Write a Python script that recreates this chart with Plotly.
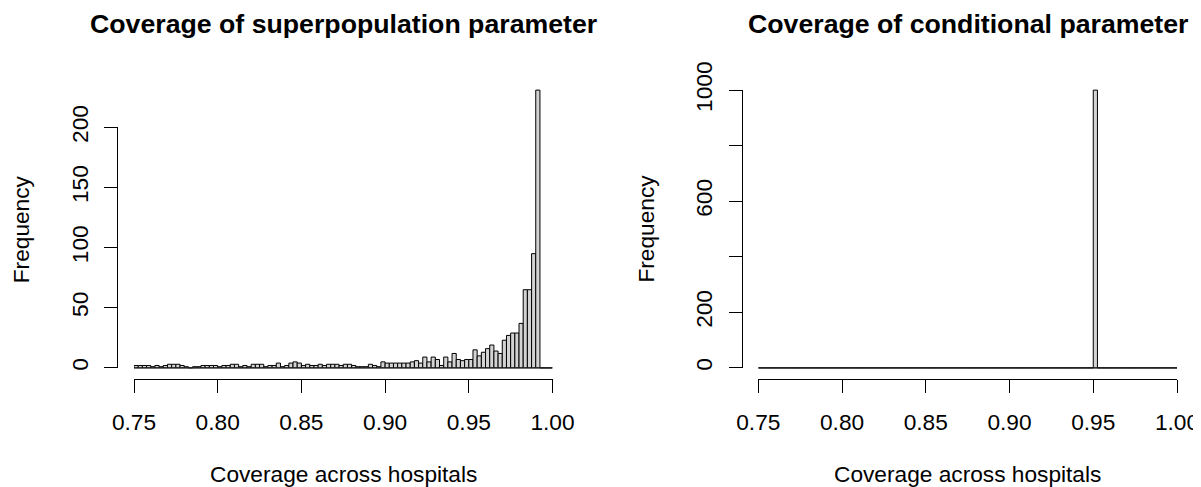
import numpy as np
import plotly.graph_objects as go

# ---------------- data ----------------
bin_width = 0.0025
breaks = np.round(np.arange(0.75, 1.0 + bin_width / 2, bin_width), 4)  # 101 bin edges

super_counts = [
    2, 2, 2, 2, 1, 2, 1, 2, 3, 3,
    3, 2, 1, 0, 1, 1, 2, 2, 2, 2,
    1, 2, 2, 3, 3, 1, 2, 1, 3, 3,
    3, 1, 2, 2, 4, 1, 2, 4, 5, 4,
    2, 3, 2, 2, 3, 2, 3, 3, 3, 2,
    3, 3, 2, 1, 1, 1, 3, 2, 1, 5,
    4, 4, 4, 4, 4, 4, 5, 6, 4, 9,
    5, 9, 7, 2, 9, 5, 12, 7, 6, 7,
    7, 15, 10, 13, 16, 19, 14, 12, 23, 27,
    29, 29, 37, 65, 65, 95, 231, 0, 0, 0,
]
cond_counts = [0] * 80 + [1000] + [0] * 19

x_tickvals = [0.75, 0.80, 0.85, 0.90, 0.95, 1.00]
x_ticktext = ["0.75", "0.80", "0.85", "0.90", "0.95", "1.00"]
super_yticks = [0, 50, 100, 150, 200]
super_yticktext = ["0", "50", "100", "150", "200"]
cond_yticks = [0, 200, 400, 600, 800, 1000]
cond_yticktext = ["0", "200", "", "600", "", "1000"]

titles = ["Coverage of superpopulation parameter", "Coverage of conditional parameter"]
xlab = "Coverage across hospitals"
ylab = "Frequency"

# ---------------- geometry (target pixels in the 1201x487 window) ----------------
W, H = 1201, 487
OFF = 8                       # the page body margin shifts the figure by 8px
FW, FH = W - OFF, H - OFF     # figure size so that it ends at the window edge


def px(x):
    return (x - OFF) / FW


def py(y):
    return 1 - (y - OFF) / FH


plot_top, plot_bot = 79, 379
panels = [
    dict(x075=134.0, x100=552.5, counts=super_counts, yt=super_yticks, ytt=super_yticktext),
    dict(x075=758.3, x100=1177.0, counts=cond_counts, yt=cond_yticks, ytt=cond_yticktext),
]

FONT = "Liberation Sans, Arial, Helvetica, sans-serif"
fs = 22.7
fs_title = 26.7

fig = go.Figure()
layout = dict(
    width=FW, height=FH, margin=dict(l=0, r=0, t=0, b=0, autoexpand=False),
    paper_bgcolor="white", plot_bgcolor="rgba(0,0,0,0)", showlegend=False,
    font=dict(family=FONT, size=fs, color="black"),
)
annotations = []

for i, p in enumerate(panels):
    n = i + 1
    xa = "x" if n == 1 else f"x{n}"
    ya = "y" if n == 1 else f"y{n}"
    yd_n = n + 2
    yd = f"y{yd_n}"

    counts = p["counts"]
    fig.add_trace(go.Bar(
        x=breaks[:-1], y=counts, width=bin_width, offset=0,
        marker=dict(color="#D3D3D3", line=dict(color="black", width=1)),
        xaxis=xa, yaxis=ya, hoverinfo="skip",
    ))
    fig.add_trace(go.Scatter(
        x=[breaks[0], breaks[-1]], y=[0, 0], mode="lines",
        line=dict(color="#222222", width=1), xaxis=xa, yaxis=ya, hoverinfo="skip",
    ))
    fig.add_trace(go.Scatter(x=[], y=[], xaxis=xa, yaxis=yd, mode="markers", hoverinfo="skip"))

    k = (p["x100"] - p["x075"]) / 0.25
    reg_left = p["x075"] - 0.01 * k
    reg_right = p["x100"] + 0.01 * k
    ymax = max(counts)
    ylo, yhi = -0.04 * ymax, 1.04 * ymax

    def ypix(v):
        return plot_bot - (v - ylo) / (yhi - ylo) * (plot_bot - plot_top)

    xkey = "xaxis" if n == 1 else f"xaxis{n}"
    ykey = "yaxis" if n == 1 else f"yaxis{n}"
    layout[xkey] = dict(
        domain=[px(p["x075"]), px(p["x100"])], range=[0.75, 1.0], anchor=ya,
        showline=True, linecolor="black", linewidth=1, ticks="outside", ticklen=13,
        tickwidth=1, tickcolor="black", tickvals=x_tickvals, ticktext=x_ticktext,
        showgrid=False, zeroline=False, ticklabelstandoff=10, automargin=False,
        tickfont=dict(family=FONT, size=fs, color="black"),
    )
    layout[ykey] = dict(
        domain=[py(plot_bot), py(plot_top)], range=[ylo, yhi],
        anchor=xa, visible=False, showgrid=False, zeroline=False, automargin=False,
    )
    ytop = p["yt"][-1]
    layout[f"yaxis{yd_n}"] = dict(
        domain=[py(ypix(0)), py(ypix(ytop))], range=[0, ytop],
        anchor="free", position=px(reg_left),
        showline=True, linecolor="black", linewidth=1, ticks="outside", ticklen=13,
        tickwidth=1, tickcolor="black", tickvals=p["yt"], ticktext=p["ytt"],
        tickangle=-90, showgrid=False, zeroline=False, ticklabelstandoff=7,
        automargin=False,
        tickfont=dict(family=FONT, size=fs, color="black"),
    )

    cx = (reg_left + reg_right) / 2
    annotations.append(dict(
        text=titles[i], x=px(cx), y=py(24), xref="paper", yref="paper",
        xanchor="center", yanchor="middle", showarrow=False,
        font=dict(family=FONT, size=fs_title, color="black", weight="bold"),
    ))
    annotations.append(dict(
        text=xlab, x=px(cx), y=py(474), xref="paper", yref="paper",
        xanchor="center", yanchor="middle", showarrow=False,
        font=dict(family=FONT, size=fs, color="black"),
    ))
    annotations.append(dict(
        text=ylab, x=px(reg_left - 96), y=py((plot_top + plot_bot) / 2),
        xref="paper", yref="paper", xanchor="center", yanchor="middle",
        textangle=-90, showarrow=False,
        font=dict(family=FONT, size=fs, color="black"),
    ))

layout["annotations"] = annotations
fig.update_layout(**layout)
fig.write_html("out.html")
